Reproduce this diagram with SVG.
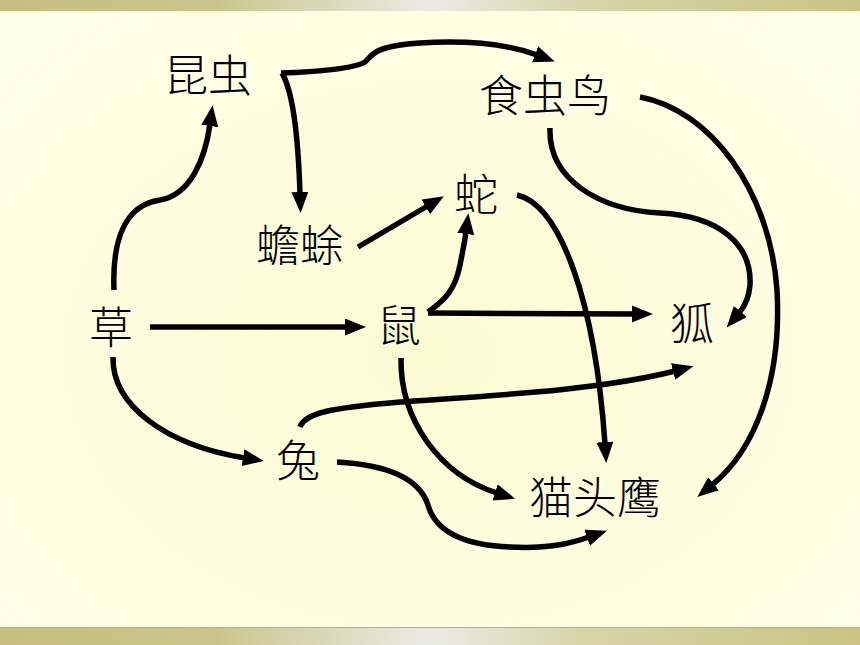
<svg xmlns="http://www.w3.org/2000/svg" width="860" height="645" viewBox="0 0 860 645">
<defs>
<radialGradient id="bg" cx="0.5" cy="0.55" r="0.7">
<stop offset="0" stop-color="#FBFBD2"/>
<stop offset="1" stop-color="#FFFFE9"/>
</radialGradient>
<linearGradient id="bar" x1="0" y1="0" x2="1" y2="0">
<stop offset="0" stop-color="#C6BE7E"/>
<stop offset="0.25" stop-color="#CBC58C"/>
<stop offset="0.5" stop-color="#EAEAE4"/>
<stop offset="0.68" stop-color="#D8D4A8"/>
<stop offset="1" stop-color="#CAC383"/>
</linearGradient>
<marker id="ah" markerUnits="userSpaceOnUse" markerWidth="23" markerHeight="19" refX="2" refY="8.5" orient="auto">
<path d="M0,0 L21,8.5 L0,17 z" fill="#000"/>
</marker>
</defs>
<style>
.lbl{font-family:"Noto Sans CJK SC","Noto Sans CJK JP",sans-serif;font-size:44px;font-weight:300;fill:#000;text-anchor:middle}
.c{fill:none;stroke:#000;stroke-width:5.5}
.a{marker-end:url(#ah)}
</style>
<rect x="0" y="0" width="860" height="645" fill="url(#bg)"/>
<rect x="0" y="0" width="860" height="11" fill="url(#bar)"/>
<rect x="0" y="627" width="860" height="18" fill="url(#bar)"/>
<line x1="0" y1="627.5" x2="860" y2="627.5" stroke="#B4B28C" stroke-width="1"/>
<g id="connectors">
<path class="c a" d="M114,290 C112,240 125,205 160,200 C190,195 205,160 210,124"/>
<path class="c a" d="M281,73 C320,72 355,68 365,62 C372,56 372,46 420,43 C470,40 510,45 537,55"/>
<path class="c a" d="M282,73 C292,90 298,130 300,194"/>
<path class="c a" d="M358,247 L427.5,206"/>
<path class="c a" d="M428,312 C445,300 455,290 460,265 C463,250 465,240 466,232"/>
<path class="c a" d="M428,313 L634,314"/>
<path class="c a" d="M150,327 L347,327"/>
<path class="c a" d="M113,357 C112,405 165,445 245,458"/>
<path class="c a" d="M300,427 C305,413 330,408 400,402 C500,395 600,390 675,371"/>
<path class="c a" d="M337,462 C390,465 420,480 428,505 C435,530 460,545 510,547 C550,549 572,543 589,537"/>
<path class="c a" d="M401,358 C400,420 440,475 497,493"/>
<path class="c a" d="M517,195 C560,205 595,300 605,444"/>
<path class="c a" d="M550,128 C548,180 600,210 660,213 C720,216 752,245 750,285 C749,298 745,306 739,313"/>
<path class="c a" d="M640,97 C710,110 770,190 777,290 C782,380 755,450 712,485"/>
</g>
<g id="n-kunchong"><text class="lbl" x="208" y="92">昆虫</text></g>
<g id="n-shichongniao"><text class="lbl" x="545" y="112">食虫鸟</text></g>
<g id="n-chanchu"><text class="lbl" x="300" y="262">蟾蜍</text></g>
<g id="n-she"><text class="lbl" x="476" y="211">蛇</text></g>
<g id="n-cao"><text class="lbl" x="111" y="344">草</text></g>
<g id="n-shu"><text class="lbl" x="399" y="342">鼠</text></g>
<g id="n-hu"><text class="lbl" x="692" y="340">狐</text></g>
<g id="n-tu"><text class="lbl" x="298" y="477">兔</text></g>
<g id="n-maotouying"><text class="lbl" x="595" y="514">猫头鹰</text></g>
</svg>
